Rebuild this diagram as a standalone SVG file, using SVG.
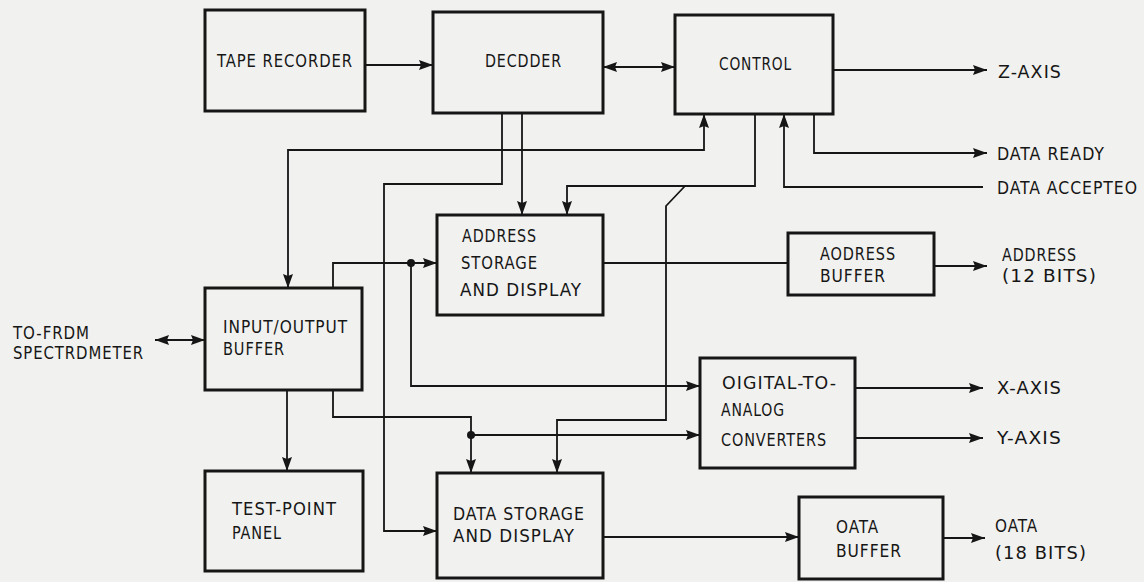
<svg xmlns="http://www.w3.org/2000/svg" width="1144" height="582" viewBox="0 0 1144 582">
<defs>
<marker id="ah" viewBox="0 0 14 10" markerWidth="14" markerHeight="10" refX="14" refY="5" markerUnits="userSpaceOnUse" orient="auto-start-reverse">
<path d="M0,0 L14,5 L0,10 L2,5 z" fill="#161616"/>
</marker>
<style>
.box{fill:none;stroke:#161616;stroke-width:3}
.ln{fill:none;stroke:#161616;stroke-width:1.8}
.a{marker-end:url(#ah)}
.b{marker-start:url(#ah);marker-end:url(#ah)}
.dot{fill:#161616}
text{font-family:"DejaVu Sans Condensed","DejaVu Sans",sans-serif;font-stretch:condensed;font-size:18px;fill:#161616;letter-spacing:1px}
</style>
</defs>
<rect width="1144" height="582" fill="#f1f1ef"/>
<g id="connectors">
<path class="ln a" d="M365,65 H433"/>
<path class="ln b" d="M603,67 H675"/>
<path class="ln a" d="M833,70 H987"/>
<path class="ln a" d="M814,114 V153 H987"/>
<path class="ln a" d="M983,187 H784 V114"/>
<path class="ln b" d="M704,114 V150 H288 V288"/>
<path class="ln a" d="M522,113 V215"/>
<path class="ln a" d="M502,113 V184 H384 V531 H437"/>
<path class="ln a" d="M755,114 V186 H567 V215"/>
<path class="ln a" d="M685,186 L666,206 V420 H557 V473"/>
<path class="ln a" d="M333,288 V263 H437"/>
<path class="ln a" d="M411,263 V386 H700"/>
<path class="ln" d="M603,263 H788"/>
<path class="ln a" d="M934,266 H987"/>
<path class="ln a" d="M287,390 V471"/>
<path class="ln a" d="M333,390 V417 H471 V473"/>
<path class="ln a" d="M471,435 H700"/>
<path class="ln a" d="M855,388 H983"/>
<path class="ln a" d="M855,438 H983"/>
<path class="ln a" d="M603,537 H799"/>
<path class="ln a" d="M943,538 H985"/>
<path class="ln b" d="M155,340 H205"/>
<circle class="dot" cx="411" cy="263" r="4"/>
<circle class="dot" cx="471" cy="435" r="4"/>
</g>
<g id="tape-recorder">
<rect class="box" x="205" y="10" width="160" height="101"/>
<text x="217" y="67" textLength="136" lengthAdjust="spacingAndGlyphs">TAPE RECORDER</text>
</g>
<g id="decoder">
<rect class="box" x="433" y="12" width="170" height="101"/>
<text x="485" y="67" textLength="77" lengthAdjust="spacingAndGlyphs">DECDDER</text>
</g>
<g id="control">
<rect class="box" x="675" y="15" width="158" height="99"/>
<text x="719" y="70" textLength="73" lengthAdjust="spacingAndGlyphs">CONTROL</text>
</g>
<g id="io-buffer">
<rect class="box" x="205" y="288" width="157" height="102"/>
<text x="223" y="333" textLength="125" lengthAdjust="spacingAndGlyphs">INPUT/OUTPUT</text>
<text x="223" y="355" textLength="62" lengthAdjust="spacingAndGlyphs">BUFFER</text>
</g>
<g id="address-storage">
<rect class="box" x="437" y="215" width="166" height="100"/>
<text x="462" y="242" textLength="75" lengthAdjust="spacingAndGlyphs">ADDRESS</text>
<text x="461" y="269" textLength="77" lengthAdjust="spacingAndGlyphs">STORAGE</text>
<text x="460" y="296" textLength="122" lengthAdjust="spacingAndGlyphs">AND DISPLAY</text>
</g>
<g id="address-buffer">
<rect class="box" x="788" y="233" width="146" height="62"/>
<text x="820" y="260" textLength="76" lengthAdjust="spacingAndGlyphs">AODRESS</text>
<text x="820" y="282" textLength="66" lengthAdjust="spacingAndGlyphs">BUFFER</text>
</g>
<g id="dac">
<rect class="box" x="700" y="358" width="155" height="110"/>
<text x="722" y="389" textLength="115" lengthAdjust="spacingAndGlyphs">OIGITAL-TO-</text>
<text x="721" y="416" textLength="64" lengthAdjust="spacingAndGlyphs">ANALOG</text>
<text x="721" y="446" textLength="106" lengthAdjust="spacingAndGlyphs">CONVERTERS</text>
</g>
<g id="test-point-panel">
<rect class="box" x="205" y="471" width="158" height="100"/>
<text x="232" y="515" textLength="105" lengthAdjust="spacingAndGlyphs">TEST-POINT</text>
<text x="232" y="539" textLength="50" lengthAdjust="spacingAndGlyphs">PANEL</text>
</g>
<g id="data-storage">
<rect class="box" x="437" y="473" width="166" height="105"/>
<text x="453" y="520" textLength="132" lengthAdjust="spacingAndGlyphs">DATA STORAGE</text>
<text x="453" y="542" textLength="122" lengthAdjust="spacingAndGlyphs">AND DISPLAY</text>
</g>
<g id="data-buffer">
<rect class="box" x="799" y="497" width="144" height="82"/>
<text x="836" y="533" textLength="43" lengthAdjust="spacingAndGlyphs">OATA</text>
<text x="836" y="557" textLength="66" lengthAdjust="spacingAndGlyphs">BUFFER</text>
</g>
<g id="labels">
<text x="13" y="339" textLength="77" lengthAdjust="spacingAndGlyphs">TO-FRDM</text>
<text x="13" y="359" textLength="131" lengthAdjust="spacingAndGlyphs">SPECTRDMETER</text>
<text x="998" y="78" textLength="64" lengthAdjust="spacingAndGlyphs">Z-AXIS</text>
<text x="997" y="160" textLength="108" lengthAdjust="spacingAndGlyphs">DATA READY</text>
<text x="997" y="194" textLength="141" lengthAdjust="spacingAndGlyphs">DATA ACCEPTEO</text>
<text x="1002" y="261" textLength="75" lengthAdjust="spacingAndGlyphs">ADDRESS</text>
<text x="1002" y="282" textLength="95" lengthAdjust="spacingAndGlyphs">(12 BITS)</text>
<text x="997" y="394" textLength="65" lengthAdjust="spacingAndGlyphs">X-AXIS</text>
<text x="997" y="444" textLength="65" lengthAdjust="spacingAndGlyphs">Y-AXIS</text>
<text x="995" y="532" textLength="43" lengthAdjust="spacingAndGlyphs">OATA</text>
<text x="995" y="559" textLength="92" lengthAdjust="spacingAndGlyphs">(18 BITS)</text>
</g>
</svg>
